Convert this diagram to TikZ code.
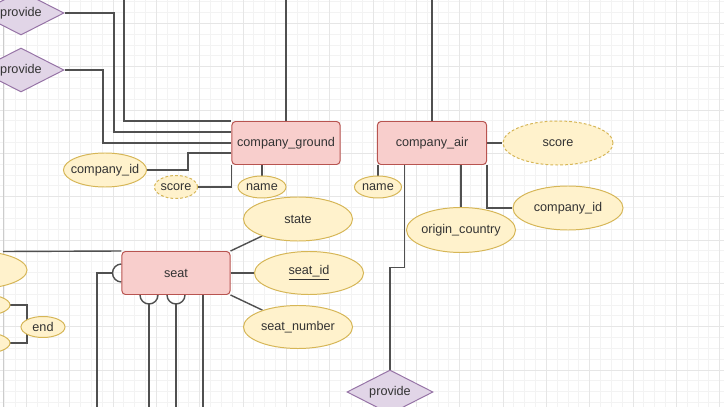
\documentclass[tikz,border=0pt]{standalone}
\usepackage{fontspec}
\setmainfont{Liberation Sans}
\usetikzlibrary{shapes.geometric,calc}
\definecolor{entfill}{HTML}{F8CECC}
\definecolor{entline}{HTML}{B85450}
\definecolor{attrfill}{HTML}{FFF2CC}
\definecolor{attrline}{HTML}{D6B656}
\definecolor{relfill}{HTML}{E1D5E7}
\definecolor{relline}{HTML}{9673A6}
\definecolor{lncol}{HTML}{505050}
\definecolor{txt}{HTML}{333333}
\definecolor{gridminor}{HTML}{F3F3F3}
\definecolor{gridmajor}{HTML}{E6E6E6}
\pgfdeclarelayer{bg}
\pgfdeclarelayer{lines}
\pgfsetlayers{bg,lines,main}
\tikzset{
  ent/.style={draw=entline, fill=entfill, line width=0.7pt, rounded corners=2.5pt,
    minimum width=2.7cm, minimum height=1.075cm, text=txt, font=\fontsize{9}{11}\selectfont},
  attr/.style={ellipse, draw=attrline, fill=attrfill, line width=0.7pt, inner sep=0pt,
    inner xsep=-6pt, text=txt, font=\fontsize{9}{11}\selectfont},
  dattr/.style={attr, dash pattern=on 2pt off 1.5pt},
  rel/.style={diamond, shape aspect=2, draw=relline, fill=relfill, line width=0.7pt, inner sep=0pt,
    minimum width=2.15cm, minimum height=1.1cm, text=txt, font=\fontsize{9}{11}\selectfont},
  conn/.style={draw=lncol, line width=1pt},
}
\begin{document}
\begin{tikzpicture}[x=0.025cm, y=-0.025cm]
\useasboundingbox (0,0) rectangle (724,407);
\clip (0,0) rectangle (724,407);

% grid
\begin{pgfonlayer}{bg}
\fill[white] (0,0) rectangle (724,407);
\foreach \i in {0,...,67} \draw[gridminor, line width=0.5pt] ({4.63+10.833*\i},0) -- ++(0,407);
\foreach \j in {0,...,37} \draw[gridminor, line width=0.5pt] (0,{1.63+10.833*\j}) -- ++(724,0);
\foreach \i in {0,...,16} \draw[gridmajor, line width=0.6pt] ({26.3+43.33*\i},0) -- ++(0,407);
\foreach \j in {0,...,9} \draw[gridmajor, line width=0.6pt] (0,{23.3+43.33*\j}) -- ++(724,0);
\draw[black!20, line width=0.6pt] (3,0) -- (3,407);
\end{pgfonlayer}

% entities
\node[ent] at (286,143) (cg) {company\_ground};
\node[ent, minimum width=2.725cm] at (432,143) (ca) {company\_air};
\node[ent] at (176,273) (seat) {seat};

% relations
\node[rel] at (21,13) (pv1) {provide};
\node[rel] at (21,70) (pv2) {provide};
\node[rel] at (390,392) (pv3) {provide};

% attributes
\node[attr, minimum width=2.075cm, minimum height=0.85cm] at (105,170) (cid1) {company\_id};
\node[dattr, minimum width=1.075cm, minimum height=0.575cm] at (176,187) (sc1) {score};
\node[attr, minimum width=1.2cm, minimum height=0.55cm] at (262,187) (nm1) {name};
\node[attr, minimum width=1.175cm, minimum height=0.55cm] at (378,187) (nm2) {name};
\node[dattr, minimum width=2.75cm, minimum height=1.1cm] at (558,143) (sc2) {score};
\node[attr, minimum width=2.725cm, minimum height=1.125cm] at (461,230) (oc) {origin\_country};
\node[attr, minimum width=2.75cm, minimum height=1.1cm] at (568,208) (cid2) {company\_id};
\node[attr, minimum width=2.725cm, minimum height=1.1cm] at (298,219) (st) {state};
\node[attr, minimum width=2.725cm, minimum height=1.075cm] at (309,273) (sid) {\underline{seat\_id}};
\node[attr, minimum width=2.725cm, minimum height=1.075cm] at (298,327) (snum) {seat\_number};
\node[attr, minimum width=1.1cm, minimum height=0.525cm] at (43,327) (en) {end};
\node[attr, minimum width=2.7cm, minimum height=0.95cm] at (-27,270) (lp) {};
\node[attr, minimum width=1.5cm, minimum height=0.55cm] at (-20,305) (s1) {};
\node[attr, minimum width=1.5cm, minimum height=0.55cm] at (-20,343) (s2) {};

% free ends
\coordinate (t1) at (124,0);
\coordinate (t2) at (286,0);
\coordinate (t3) at (432,0);
\coordinate (l1) at (3,251.5);
\coordinate (k) at (27,327);
\coordinate (b1) at (97,407);
\coordinate (b2) at (149,407);
\coordinate (b3) at (176,407);
\coordinate (b4) at (203,407);

\begin{pgfonlayer}{lines}
\draw[conn] (t1) |- (cg.north west);
\draw[conn] (pv1.east) -- (114,13) |- ([yshift=0.275cm]cg.west);
\draw[conn] (pv2.east) -- (103,70) |- (cg.west);
\draw[conn] (cid1.east) -- (188,170) |- ([yshift=-0.25cm]cg.west);
\draw[conn] (sc1.east) -| (cg.south west);
\draw[conn] (t2) -- (cg.north);
\draw[conn] (nm1.north |- cg.south) -- (nm1.north);

\draw[conn] (t3) -- (ca.north);
\draw[conn] (ca.east) -- (sc2.west);
\draw[conn] (nm2.north |- ca.south) -- (nm2.north);
\draw[conn] (oc.north |- ca.south) -- (oc.north);
\draw[conn] (ca.south east) |- (cid2.west);
\draw[conn] ([xshift=0.69cm]ca.south west) -- ++(0,102.5) -| (pv3.north);

\draw[conn] (l1) -- (seat.north west);
\draw[conn] (seat.north east) -- (st);
\draw[conn] (seat.east) -- (sid);
\draw[conn] (seat.south east) -- (snum);
\draw[conn] (b1) |- ([xshift=-0.225cm]seat.west);
\draw[conn] ([yshift=0.225cm]seat.west) arc[start angle=270, end angle=90, radius=9];
\draw[conn] (b2) -- ++(0,-103.5);
\draw[conn] ([xshift=-0.9cm]seat.south) arc[start angle=180, end angle=0, radius=9];
\draw[conn] (b3) -- ++(0,-103.5);
\draw[conn] ([xshift=-0.225cm]seat.south) arc[start angle=180, end angle=0, radius=9];
\draw[conn] (b4) -- (b4 |- seat.south);

\draw[conn] (s1.east) -| (k) |- (s2.east);
\end{pgfonlayer}
\end{tikzpicture}
\end{document}
